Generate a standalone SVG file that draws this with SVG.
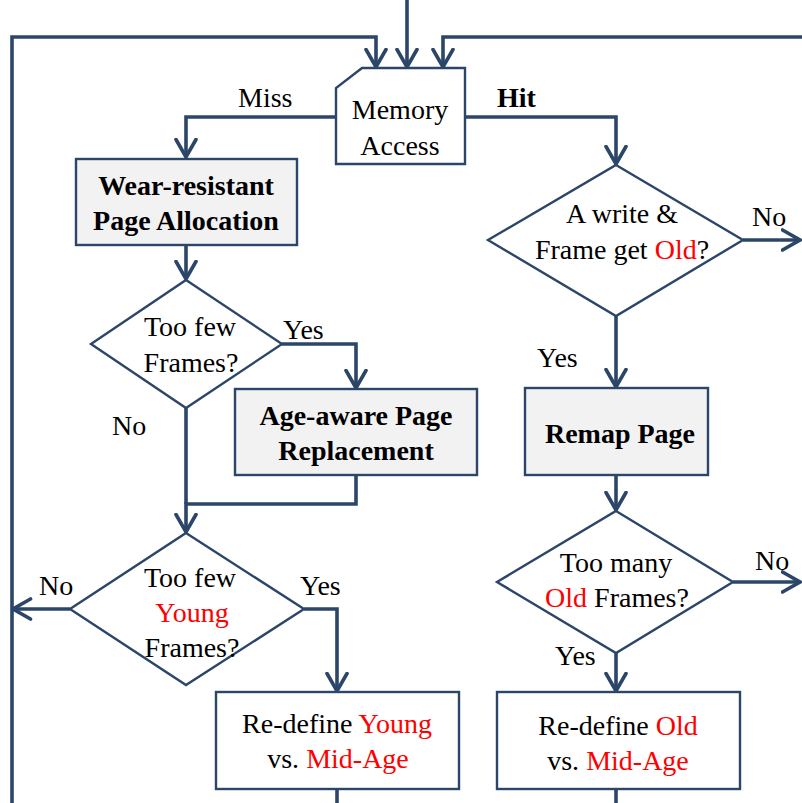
<svg xmlns="http://www.w3.org/2000/svg" width="802" height="803" viewBox="0 0 802 803">
  <style>
    .shape { fill: #ffffff; stroke: #2b4668; stroke-width: 2.4; }
    .proc { fill: #f2f2f2; stroke: #2b4668; stroke-width: 2.4; }
    .conn { fill: none; stroke: #2b4668; stroke-width: 3.6; stroke-linejoin: miter; }
    .arrow { marker-end: url(#chev); }
    text { font-size: 28px; fill: #000000; }
    .c { text-anchor: middle; }
    .b { font-weight: bold; }
    .red { fill: #ff0000; }
  </style>
  <defs>
    <marker id="chev" markerUnits="userSpaceOnUse" viewBox="0 0 22 24" refX="19.5" refY="12" markerWidth="22" markerHeight="24" orient="auto">
      <path d="M2,2 L19.5,12 L2,22" fill="none" stroke="#2b4668" stroke-width="3.6" stroke-linecap="round" stroke-linejoin="miter"/>
    </marker>
  </defs>

  <!-- connectors -->
  <g id="connectors">
    <!-- entry and loop-back lines into Memory Access -->
    <path class="conn arrow" d="M407,0 V67"/>
    <path class="conn arrow" d="M12,803 V37 H376 V67"/>
    <path class="conn arrow" d="M802,37 H443 V67"/>
    <!-- Miss / Hit -->
    <path class="conn arrow" d="M336,117 H186 V157"/>
    <path class="conn arrow" d="M465,117 H616 V164"/>
    <!-- left branch -->
    <path class="conn arrow" d="M186,245 V279"/>
    <path class="conn arrow" d="M282,344 H356 V388"/>
    <path class="conn" d="M186,408 V504"/>
    <path class="conn arrow" d="M356,475 V504 H186 V532"/>
    <path class="conn arrow" d="M70,609 H13"/>
    <path class="conn arrow" d="M304,609 H337 V691"/>
    <path class="conn" d="M337,789 V803"/>
    <!-- right branch -->
    <path class="conn arrow" d="M743,240 H800"/>
    <path class="conn arrow" d="M616,316 V387"/>
    <path class="conn arrow" d="M616,475 V510"/>
    <path class="conn arrow" d="M733,582 H800"/>
    <path class="conn arrow" d="M616,653 V691"/>
    <path class="conn" d="M616,789 V803"/>
  </g>

  <g font-family="Liberation Serif, Times New Roman, Tinos, Noto Serif, DejaVu Serif, serif">
  <!-- edge labels -->
  <g id="labels">
    <text x="238" y="107">Miss</text>
    <text x="497" y="107" class="b">Hit</text>
    <text x="752" y="226">No</text>
    <text x="537" y="367">Yes</text>
    <text x="283" y="339">Yes</text>
    <text x="112" y="435">No</text>
    <text x="39" y="595">No</text>
    <text x="300" y="595">Yes</text>
    <text x="755" y="570">No</text>
    <text x="555" y="665">Yes</text>
  </g>

  <g id="memory-access">
    <path class="shape" d="M362,68 H465 V164 H336 V88 Z"/>
    <text x="400" y="119" class="c">Memory</text>
    <text x="400" y="155" class="c">Access</text>
  </g>

  <g id="wear-resistant-allocation">
    <rect class="proc" x="76" y="159" width="221" height="86"/>
    <text x="186" y="195" class="c b">Wear-resistant</text>
    <text x="186" y="230" class="c b">Page Allocation</text>
  </g>

  <g id="too-few-frames">
    <path class="shape" d="M186,280 L282,344 L186,408 L91,344 Z"/>
    <text x="190" y="336" class="c">Too few</text>
    <text x="191" y="372" class="c">Frames?</text>
  </g>

  <g id="age-aware-replacement">
    <rect class="proc" x="235" y="389" width="242" height="86"/>
    <text x="356" y="425" class="c b">Age-aware Page</text>
    <text x="356" y="460" class="c b">Replacement</text>
  </g>

  <g id="too-few-young">
    <path class="shape" d="M186,533 L304,609 L186,685 L70,609 Z"/>
    <text x="190" y="587" class="c">Too few</text>
    <text x="192" y="622" class="c red">Young</text>
    <text x="192" y="657" class="c">Frames?</text>
  </g>

  <g id="redefine-young">
    <rect class="shape" x="216" y="692" width="243" height="97"/>
    <text x="337" y="733" class="c">Re-define <tspan class="red">Young</tspan></text>
    <text x="338" y="768" class="c">vs. <tspan class="red">Mid-Age</tspan></text>
  </g>

  <g id="write-old">
    <path class="shape" d="M616,165 L743,240 L616,316 L488,240 Z"/>
    <text x="622" y="223" class="c">A write &amp;</text>
    <text x="622" y="259" class="c">Frame get <tspan class="red">Old</tspan>?</text>
  </g>

  <g id="remap-page">
    <rect class="proc" x="525" y="388" width="183" height="87"/>
    <text x="620" y="443" class="c b">Remap Page</text>
  </g>

  <g id="too-many-old">
    <path class="shape" d="M616,511 L733,582 L616,653 L497,582 Z"/>
    <text x="616" y="572" class="c">Too many</text>
    <text x="617" y="607" class="c"><tspan class="red">Old</tspan> Frames?</text>
  </g>

  <g id="redefine-old">
    <rect class="shape" x="497" y="692" width="243" height="97"/>
    <text x="618" y="735" class="c">Re-define <tspan class="red">Old</tspan></text>
    <text x="618" y="770" class="c">vs. <tspan class="red">Mid-Age</tspan></text>
  </g>
  </g>
</svg>
